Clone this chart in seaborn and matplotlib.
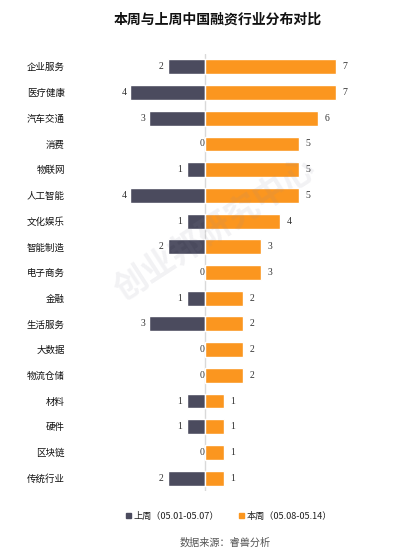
import pandas as pd
import numpy as np
import matplotlib.pyplot as plt
import seaborn as sns
from matplotlib.patches import Patch

# data
categories = ["企业服务", "医疗健康", "汽车交通", "消费", "物联网", "人工智能", "文化娱乐",
              "智能制造", "电子商务", "金融", "生活服务", "大数据", "物流仓储", "材料",
              "硬件", "区块链", "传统行业"]
last_week = [2, 4, 3, 0, 1, 4, 1, 2, 0, 1, 3, 0, 0, 1, 1, 0, 2]
this_week = [7, 7, 6, 5, 5, 5, 4, 3, 3, 2, 2, 2, 2, 1, 1, 1, 1]
last_label = "上周（05.01-05.07）"
this_label = "本周（05.08-05.14）"

gray = "#4b4b5e"
orange = "#fb961f"

sns.set_style("white")
plt.rcParams['font.family'] = ['Noto Sans CJK SC', 'DejaVu Sans']

df = pd.DataFrame({"cat": categories, "last": last_week, "this": this_week})
df["last_neg"] = -df["last"]

fig = plt.figure(figsize=(4.17, 5.59), dpi=100)
ax = fig.add_axes([65/417, 1 - 491/559, 290/417, 437/559])

sns.barplot(data=df, y="cat", x="last_neg", color=gray, orient="h", width=0.58,
            saturation=1, ax=ax)
sns.barplot(data=df, y="cat", x="this", color=orange, orient="h", width=0.58,
            saturation=1, ax=ax)

ax.set_xlim(-7.5, 8.0)
ax.set_ylim(16.5, -0.5)
ax.axvline(0, color="#d9d9d9", lw=1, zorder=0.5, ymin=-0.02, ymax=1.0)
for s in ax.spines.values():
    s.set_visible(False)
ax.set_xticks([])
ax.set_xlabel("")
ax.set_ylabel("")
ax.tick_params(axis="y", length=0, pad=0, labelsize=6.8, labelcolor="#111111")

for i, (a, b) in enumerate(zip(last_week, this_week)):
    off = 0.22 if a > 0 else 0.06
    ax.text(-a - off, i, str(a), ha="right", va="center", fontsize=7,
            family="Liberation Serif", color="#333333")
    ax.text(b + 0.35, i, str(b), ha="left", va="center", fontsize=7,
            family="Liberation Serif", color="#333333")

# watermark
fig.text(215/417, 1 - 230/559, "创业邦研究中心", fontsize=24, fontweight="bold",
         color="#8a8aa0", alpha=0.11, rotation=33, ha="center", va="center")

fig.text(218/417, 1 - 20/559, "本周与上周中国融资行业分布对比", fontsize=10,
         fontweight="bold", ha="center", va="center", color="#111111")

handles = [Patch(color=gray, label=last_label), Patch(color=orange, label=this_label)]
fig.legend(handles=handles, loc="center", bbox_to_anchor=(229/417, 1 - 516/559),
           ncol=2, frameon=False, fontsize=6.6, handlelength=0.55, handleheight=0.55,
           handletextpad=0.3, columnspacing=2.2, labelcolor="#222222")

fig.text(225/417, 1 - 543/559, "数据来源：睿兽分析", fontsize=7.3, ha="center",
         va="center", color="#555555")

fig.savefig("out.png", dpi=100)
